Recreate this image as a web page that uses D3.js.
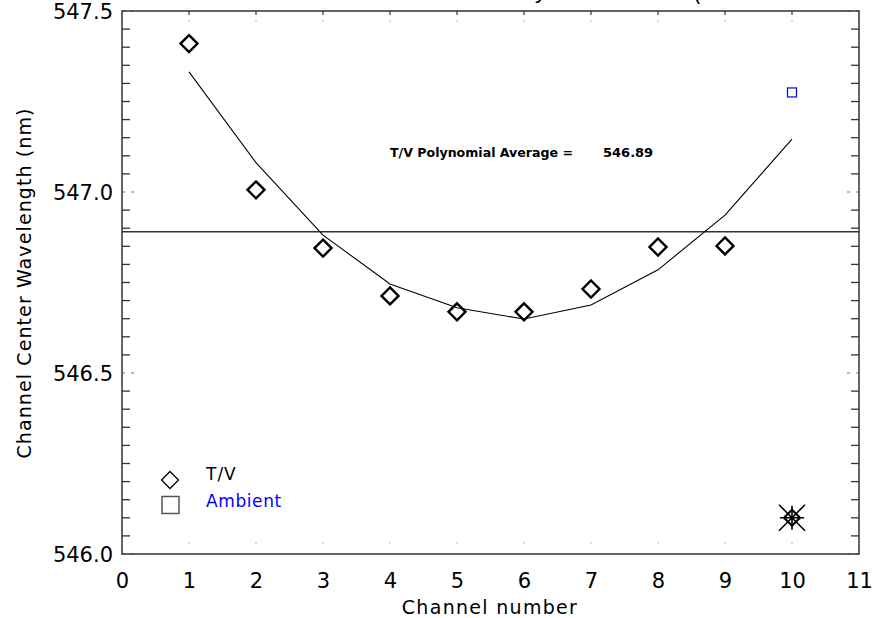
<!DOCTYPE html>
<html><head><meta charset="utf-8">
<script src="https://cdn.jsdelivr.net/npm/d3@7"></script>
<style>body{margin:0;background:#fff}svg{display:block}</style>
</head><body>
<svg id="c" width="873" height="618"></svg>
<script>
// ---- data ----
const channels = [1, 2, 3, 4, 5, 6, 7, 8, 9];
const tvValues = [547.41, 547.006, 546.845, 546.713, 546.669, 546.669, 546.732, 546.848, 546.851];
const fitChannels = [1, 2, 3, 4, 5, 6, 7, 8, 9, 10];
const fitValues = [547.332, 547.081, 546.881, 546.746, 546.680, 546.649, 546.688, 546.785, 546.936, 547.146];
const flaggedChannels = [10];
const flaggedValues = [546.10];
const ambientChannels = [10];
const ambientValues = [547.275];
const polyAverage = 546.89;
const xTicks = [0, 1, 2, 3, 4, 5, 6, 7, 8, 9, 10, 11];
const yTicks = [546.0, 546.5, 547.0, 547.5];
const legendLabels = ["T/V", "Ambient"];

const svg = d3.select("#c");
const L = 122, R = 859, T = 11, B = 554;
const x = d3.scaleLinear().domain([0, 11]).range([L, R]);
const y = d3.scaleLinear().domain([546.0, 547.5]).range([B, T]);
const FONT = "DejaVu Sans, sans-serif";

// title fragments (cut off at top, as in the reference)
svg.append("text").attr("x", 534).attr("y", -1).attr("font-family", FONT).attr("font-size", 22).text("y");
svg.append("text").attr("x", 693).attr("y", 1).attr("font-family", FONT).attr("font-size", 22).text("(");

// y ticks (minor every 0.05, major dotted)
const minor = d3.range(546.0, 547.5001, 0.05).map(v => +v.toFixed(2));
const g = svg.append("g");
minor.forEach(v => {
  const isMajor = Math.abs(v * 2 - Math.round(v * 2)) < 1e-6;
  if (isMajor) {
    g.append("line").attr("x1", L).attr("x2", L + 12).attr("y1", y(v)).attr("y2", y(v))
      .attr("stroke", "#777").attr("stroke-width", 1.2).attr("stroke-dasharray", "3,6");
    g.append("line").attr("x1", R).attr("x2", R - 12).attr("y1", y(v)).attr("y2", y(v))
      .attr("stroke", "#777").attr("stroke-width", 1.2).attr("stroke-dasharray", "3,6");
  } else {
    g.append("line").attr("x1", L).attr("x2", L + 8).attr("y1", y(v)).attr("y2", y(v))
      .attr("stroke", "#333").attr("stroke-width", 1.3);
    g.append("line").attr("x1", R).attr("x2", R - 8).attr("y1", y(v)).attr("y2", y(v))
      .attr("stroke", "#333").attr("stroke-width", 1.3);
  }
});
// x ticks (faint)
xTicks.slice(1, -1).forEach(v => {
  g.append("line").attr("x1", x(v)).attr("x2", x(v)).attr("y1", T).attr("y2", T + 4)
    .attr("stroke", "#333").attr("stroke-width", 1.2);
  g.append("line").attr("x1", x(v)).attr("x2", x(v)).attr("y1", T + 9).attr("y2", T + 11)
    .attr("stroke", "#bbb").attr("stroke-width", 1);
  g.append("line").attr("x1", x(v)).attr("x2", x(v)).attr("y1", B - 10).attr("y2", B - 12)
    .attr("stroke", "#bbb").attr("stroke-width", 1);
});

// frame
svg.append("rect").attr("x", L).attr("y", T).attr("width", R - L).attr("height", B - T)
  .attr("fill", "none").attr("stroke", "#333").attr("stroke-width", 1.5);

// axes labels via d3 axes
const ax = svg.append("g").attr("transform", `translate(0,${B})`)
  .call(d3.axisBottom(x).tickValues(xTicks).tickFormat(d3.format("d")).tickSize(0).tickPadding(19));
const ay = svg.append("g").attr("transform", `translate(${L},0)`)
  .call(d3.axisLeft(y).tickValues(yTicks).tickFormat(d3.format(".1f")).tickSize(0).tickPadding(9));
[ax, ay].forEach(a => {
  a.select(".domain").remove();
  a.selectAll("text").attr("font-family", FONT).attr("font-size", 21).attr("fill", "#000");
});
ay.selectAll("text").attr("dy", "0.36em");

// axis titles
svg.append("text").attr("x", 490).attr("y", 614).attr("text-anchor", "middle")
  .attr("font-family", FONT).attr("font-size", 19).attr("letter-spacing", 1.3).text("Channel number");
svg.append("text").attr("transform", "translate(31,283) rotate(-90)").attr("text-anchor", "middle")
  .attr("font-family", FONT).attr("font-size", 19).attr("letter-spacing", 1.1).text("Channel Center Wavelength (nm)");

// average line
svg.append("line").attr("x1", L).attr("x2", R).attr("y1", y(polyAverage)).attr("y2", y(polyAverage))
  .attr("stroke", "#333").attr("stroke-width", 1.4);

// fit line
svg.append("path").datum(fitChannels.map((c, i) => [c, fitValues[i]]))
  .attr("d", d3.line().x(d => x(d[0])).y(d => y(d[1])))
  .attr("fill", "none").attr("stroke", "#000").attr("stroke-width", 1.1);

// annotation
svg.append("text").attr("x", 390).attr("y", 157).attr("font-family", FONT).attr("font-weight", "bold")
  .attr("font-size", 13).attr("textLength", 183).attr("lengthAdjust", "spacingAndGlyphs")
  .text("T/V Polynomial Average =");
svg.append("text").attr("x", 603).attr("y", 157).attr("font-family", FONT).attr("font-weight", "bold")
  .attr("font-size", 13).text(polyAverage.toFixed(2));

// diamonds
const diamond = (cx, cy, r) => `M${cx},${cy - r}L${cx + r},${cy}L${cx},${cy + r}L${cx - r},${cy}Z`;
svg.append("g").selectAll("path").data(channels.map((c, i) => [c, tvValues[i]])).join("path")
  .attr("d", d => diamond(x(d[0]), y(d[1]), 8.5))
  .attr("fill", "none").attr("stroke", "#000").attr("stroke-width", 2.4);

// flagged point: diamond + asterisk
flaggedChannels.forEach((c, i) => {
  const cx = x(c), cy = y(flaggedValues[i]);
  svg.append("path").attr("d", diamond(cx, cy, 8)).attr("fill", "none").attr("stroke", "#000").attr("stroke-width", 2.2);
  const a = 13, p = 12;
  svg.append("path").attr("d", `M${cx - a},${cy - a}L${cx + a},${cy + a}M${cx - a},${cy + a}L${cx + a},${cy - a}M${cx - p},${cy}L${cx + p},${cy}M${cx},${cy - p}L${cx},${cy + p}`)
    .attr("stroke", "#000").attr("stroke-width", 1.6);
});

// ambient
svg.append("g").selectAll("rect").data(ambientChannels.map((c, i) => [c, ambientValues[i]])).join("rect")
  .attr("x", d => x(d[0]) - 4.5).attr("y", d => y(d[1]) - 4.5).attr("width", 9).attr("height", 9)
  .attr("fill", "none").attr("stroke", "#0000ff").attr("stroke-width", 1.2);

// legend
svg.append("path").attr("d", diamond(170, 480, 8.5)).attr("fill", "none").attr("stroke", "#000").attr("stroke-width", 1.3);
svg.append("rect").attr("x", 162).attr("y", 496.5).attr("width", 17).attr("height", 17)
  .attr("fill", "none").attr("stroke", "#555").attr("stroke-width", 1.5);
svg.append("text").attr("x", 206).attr("y", 480).attr("font-family", FONT).attr("font-size", 17)
  .attr("letter-spacing", 1).text(legendLabels[0]);
svg.append("text").attr("x", 206).attr("y", 507).attr("font-family", FONT).attr("font-size", 17)
  .attr("fill", "#0000ff").attr("letter-spacing", 0.6).text(legendLabels[1]);
</script>
</body></html>
